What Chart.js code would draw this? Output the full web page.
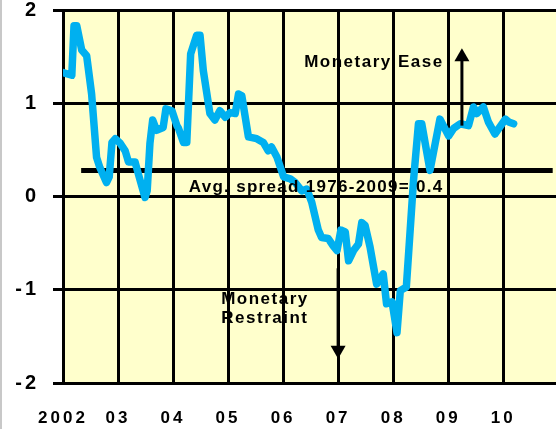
<!DOCTYPE html>
<html>
<head>
<meta charset="utf-8">
<script src="https://cdn.jsdelivr.net/npm/chart.js@4"></script>
<style>
  html, body { margin: 0; padding: 0; background: #fff; }
  #wrap { position: relative; width: 556px; height: 429px; }
  #edge { position: absolute; left: 0; top: 0; width: 2px; height: 429px; background: #c8c8c8; }
</style>
</head>
<body>
<div id="wrap">
  <canvas id="myChart" width="556" height="429"></canvas>
  <div id="edge"></div>
</div>
<script>
// yield spread
const years = [2002.00, 2002.16, 2002.20, 2002.25, 2002.34, 2002.43, 2002.52, 2002.61, 2002.67, 2002.79,
	2002.84, 2002.89, 2002.95, 2003.04, 2003.13, 2003.19, 2003.31, 2003.37, 2003.49, 2003.53,
	2003.58, 2003.63, 2003.70, 2003.82, 2003.87, 2003.98, 2004.07, 2004.10, 2004.19, 2004.25,
	2004.32, 2004.43, 2004.49, 2004.55, 2004.67, 2004.76, 2004.85, 2004.95, 2005.04, 2005.13,
	2005.19, 2005.25, 2005.37, 2005.52, 2005.64, 2005.73, 2005.79, 2005.89, 2006.01, 2006.13,
	2006.22, 2006.34, 2006.43, 2006.52, 2006.64, 2006.70, 2006.82, 2006.91, 2006.98, 2007.05,
	2007.13, 2007.19, 2007.28, 2007.37, 2007.43, 2007.49, 2007.58, 2007.64, 2007.70, 2007.82,
	2007.88, 2007.98, 2008.07, 2008.13, 2008.24, 2008.37, 2008.46, 2008.52, 2008.67, 2008.85,
	2009.01, 2009.10, 2009.22, 2009.37, 2009.46, 2009.52, 2009.64, 2009.73, 2009.85, 2010.04,
	2010.10, 2010.19];
const spread = [1.33, 1.30, 1.83, 1.83, 1.57, 1.51, 1.10, 0.42, 0.31, 0.15,
	0.21, 0.58, 0.62, 0.57, 0.49, 0.37, 0.37, 0.24, -0.01, 0.06,
	0.57, 0.82, 0.71, 0.74, 0.94, 0.92, 0.76, 0.73, 0.58, 0.58,
	1.53, 1.73, 1.73, 1.35, 0.89, 0.82, 0.92, 0.85, 0.90, 0.89,
	1.10, 1.08, 0.64, 0.62, 0.58, 0.49, 0.53, 0.42, 0.21, 0.19,
	0.15, 0.06, 0.08, -0.06, -0.36, -0.44, -0.45, -0.53, -0.58, -0.36,
	-0.38, -0.69, -0.58, -0.51, -0.28, -0.31, -0.54, -0.74, -0.94, -0.83,
	-1.15, -1.13, -1.46, -1.01, -0.97, 0.17, 0.78, 0.78, 0.28, 0.83,
	0.65, 0.73, 0.78, 0.76, 0.96, 0.89, 0.96, 0.80, 0.67, 0.83,
	0.80, 0.78];

const tickYears = [2002, 2003, 2004, 2005, 2006, 2007, 2008, 2009, 2010];
const tickLabels = ["2002", "03", "04", "05", "06", "07", "08", "09", "10"];

const avgLevel = 0.28;
const avgSpan = [2002.33, 2010.9];
const avgText = "Avg. spread 1976-2009= 0.4";
const easeText = "Monetary Ease";
const restraintText = ["Monetary", "Restraint"];

const FONT = '"Liberation Sans", Arial, sans-serif';
const ctx = document.getElementById('myChart');

function arrow(c, x, from, tip) {
	const dir = Math.sign(tip - from);
	c.lineWidth = 3;
	c.beginPath();
	c.moveTo(x, from);
	c.lineTo(x, tip - dir * 10);
	c.stroke();
	c.beginPath();
	c.moveTo(x, tip);
	c.lineTo(x - 7.5, tip - dir * 13);
	c.lineTo(x + 7.5, tip - dir * 13);
	c.closePath();
	c.fill();
}

const notes = {
	id: 'notes',
	beforeDraw(chart) {
		const { ctx: c, chartArea: a } = chart;
		c.save();
		c.fillStyle = "#FFFFCC";
		c.fillRect(a.left, a.top, a.right - a.left, a.bottom - a.top);
		c.restore();
		c.letterSpacing = "3px";
	},
	afterDatasetsDraw(chart) {
		const { ctx: c, scales: { x, y } } = chart;
		c.save();
		c.fillStyle = "#000";
		c.strokeStyle = "#000";
		c.textAlign = "center";
		c.textBaseline = "middle";
		c.font = "bold 17px " + FONT;
		c.letterSpacing = "1.3px";
		c.fillText(avgText, x.getPixelForValue(2006.6), y.getPixelForValue(0.10));
		c.letterSpacing = "1.5px";
		c.fillText(easeText, x.getPixelForValue(2007.65), y.getPixelForValue(1.44));
		c.fillText(restraintText[0], x.getPixelForValue(2005.67), y.getPixelForValue(-1.10));
		c.fillText(restraintText[1], x.getPixelForValue(2005.67), y.getPixelForValue(-1.31));
		arrow(c, x.getPixelForValue(2009.25), y.getPixelForValue(0.76), y.getPixelForValue(1.59));
		arrow(c, x.getPixelForValue(2007.0), y.getPixelForValue(-0.77), y.getPixelForValue(-1.74));
		c.restore();
	}
};

new Chart(ctx, {
	type: 'line',
	data: {
		datasets: [
			{
				data: years.map((yr, i) => ({ x: yr, y: spread[i] })),
				borderColor: "#00B0F0",
				borderWidth: 7.5,
				borderJoinStyle: "round",
				borderCapStyle: "round",
				pointRadius: 0,
				tension: 0
			},
			{
				data: avgSpan.map(yr => ({ x: yr, y: avgLevel })),
				borderColor: "#000",
				borderWidth: 5,
				pointRadius: 0
			}
		]
	},
	options: {
		responsive: false,
		animation: false,
		layout: { padding: { top: 10, right: 0, left: 0, bottom: 0 } },
		plugins: {
			legend: { display: false },
			tooltip: { enabled: false }
		},
		scales: {
			x: {
				type: 'linear',
				min: 2002,
				max: 2010.96,
				afterBuildTicks: (scale) => { scale.ticks = tickYears.map(v => ({ value: v })); },
				afterFit: (scale) => { scale.height = 46; scale.paddingLeft = 0; scale.paddingRight = 0; },
				ticks: {
					color: "#000",
					padding: 25,
					maxRotation: 0,
					font: { family: FONT, size: 17, weight: 'bold' },
					callback: (v) => tickLabels[tickYears.indexOf(v)]
				},
				grid: { color: "#000", lineWidth: 3, drawTicks: false },
				border: { color: "#000", width: 3 }
			},
			y: {
				min: -2,
				max: 2,
				afterFit: (scale) => { scale.width = 63; scale.paddingTop = 0; scale.paddingBottom = 0; },
				ticks: {
					stepSize: 1,
					color: "#000",
					padding: 14,
					font: { family: FONT, size: 20, weight: 'bold' }
				},
				grid: { color: "#000", lineWidth: 3, tickLength: 10 },
				border: { color: "#000", width: 3 }
			}
		}
	},
	plugins: [notes]
});
</script>
</body>
</html>
